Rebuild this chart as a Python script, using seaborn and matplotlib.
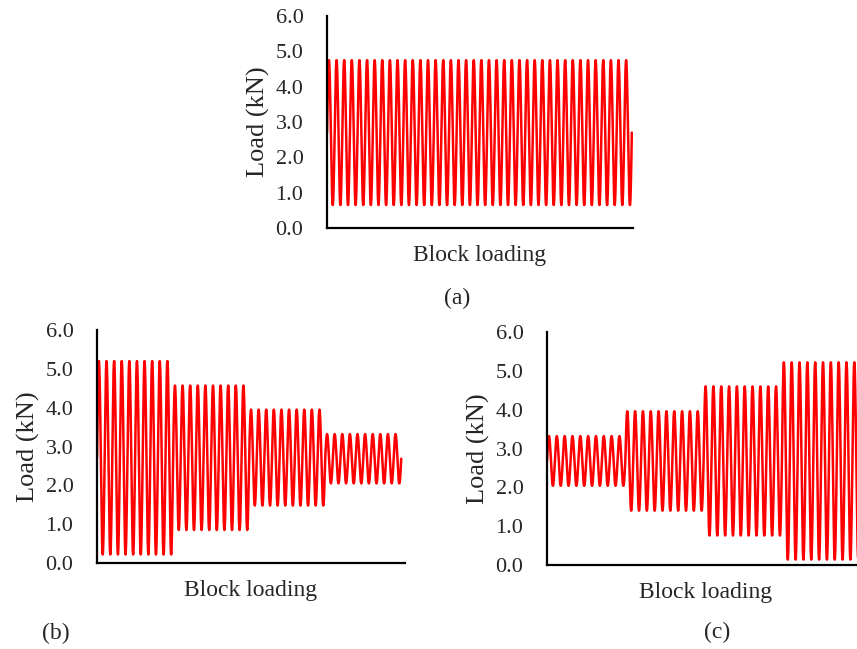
import numpy as np
import pandas as pd
import matplotlib
matplotlib.use("Agg")
import matplotlib.pyplot as plt
import seaborn as sns

# block loading (kN)
a_peaks = [4.75]
a_valleys = [0.65]
a_cycles = [40]

b_peaks = [5.20, 4.57, 3.95, 3.32]
b_valleys = [0.22, 0.85, 1.48, 2.05]
b_cycles = [10, 10, 10, 10]

c_peaks = [3.32, 3.96, 4.60, 5.22]
c_valleys = [2.04, 1.40, 0.76, 0.14]
c_cycles = [10, 10, 10, 10]

y_ticks = [0.0, 1.0, 2.0, 3.0, 4.0, 5.0, 6.0]
y_ticklabels = ["0.0", "1.0", "2.0", "3.0", "4.0", "5.0", "6.0"]


def block_signal(peaks, valleys, cycles, pts=48):
    # sinusoidal cycles, one block after another, each starting at the mean
    t_all, y_all = [], []
    t0 = 0
    for p, v, n in zip(peaks, valleys, cycles):
        t = np.linspace(0, n, n * pts, endpoint=False)
        mean, amp = (p + v) / 2, (p - v) / 2
        t_all.append(t0 + t)
        y_all.append(mean + amp * np.sin(2 * np.pi * t))
        t0 += n
    t_all.append([t0])
    y_all.append([(peaks[-1] + valleys[-1]) / 2])
    return pd.DataFrame({"cycle": np.concatenate(t_all),
                         "load": np.concatenate(y_all)})


sns.set_style("white")
plt.rcParams["font.family"] = ["Liberation Serif", "DejaVu Serif"]

fig = plt.figure(figsize=(8.57, 6.49), dpi=100)
panels = [
    ("a", a_peaks, a_valleys, a_cycles, [0.3816, 0.6487, 0.3570, 0.3266], 40.15),
    ("b", b_peaks, b_valleys, b_cycles, [0.1132, 0.1325, 0.3594, 0.3590], 40.5),
    ("c", c_peaks, c_valleys, c_cycles, [0.6383, 0.1294, 0.3700, 0.3590], 40.5),
]

for name, pk, vl, cy, rect, xmax in panels:
    ax = fig.add_axes(rect)
    df = block_signal(pk, vl, cy)
    sns.lineplot(data=df, x="cycle", y="load", ax=ax, color="#ff0000",
                 linewidth=1.8, estimator=None, sort=False)
    ax.set_xlim(0, xmax)
    ax.set_ylim(0, 6)
    ax.set_xticks([])
    ax.set_yticks(y_ticks)
    ax.set_yticklabels(y_ticklabels)
    ax.tick_params(axis="y", length=0, pad=17, labelsize=16)
    ax.set_xlabel("Block loading", fontsize=17, labelpad=12)
    ax.set_ylabel("Load (kN)", fontsize=19, labelpad=4)
    for s in ["top", "right"]:
        ax.spines[s].set_visible(False)
    for s in ["left", "bottom"]:
        ax.spines[s].set_color("black")
        ax.spines[s].set_linewidth(1.6)

fig.text(457 / 857, 1 - 298 / 649, "(a)", fontsize=17, ha="center", va="center")
fig.text(56 / 857, 1 - 633 / 649, "(b)", fontsize=17, ha="center", va="center")
fig.text(717 / 857, 1 - 632 / 649, "(c)", fontsize=17, ha="center", va="center")

fig.savefig("out.png", dpi=100, facecolor="white")
